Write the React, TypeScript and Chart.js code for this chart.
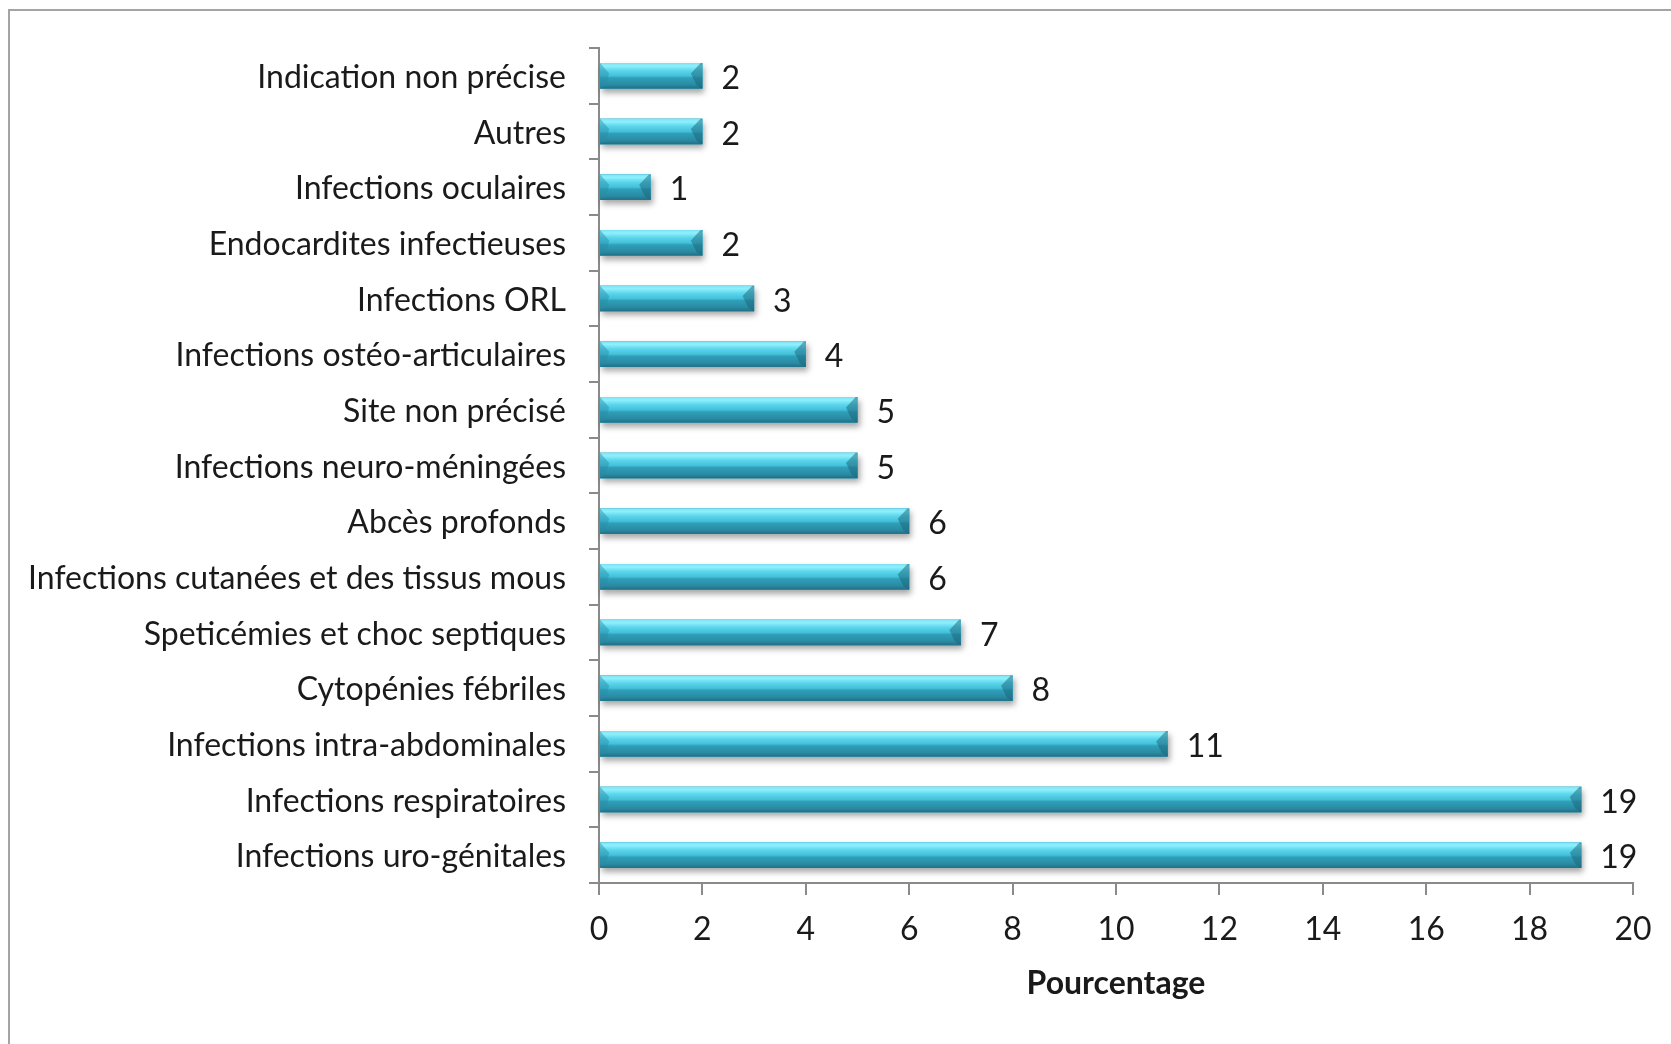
import { useEffect, useRef } from 'react';
import { Chart, registerables } from 'chart.js';

Chart.register(...registerables);

const categories: string[] = [
  'Indication non précise',
  'Autres',
  'Infections oculaires',
  'Endocardites infectieuses',
  'Infections ORL',
  'Infections ostéo-articulaires',
  'Site non précisé',
  'Infections neuro-méningées',
  'Abcès profonds',
  'Infections cutanées et des tissus mous',
  'Speticémies et choc septiques',
  'Cytopénies fébriles',
  'Infections intra-abdominales',
  'Infections respiratoires',
  'Infections uro-génitales',
];

const values: number[] = [2, 2, 1, 2, 3, 4, 5, 5, 6, 6, 7, 8, 11, 19, 19];

const xMin = 0;
const xMax = 20;
const xStep = 2;
const axisTitle = 'Pourcentage';

const W = 1671;
const H = 1044;
const AREA_LEFT = 599;
const AREA_RIGHT = 1633;
const AREA_TOP = 48;
const AREA_BOTTOM = 883;
const FONT = 'Lato, Carlito, Calibri, sans-serif';
const TEXT = '#1a1a1a';
const AXIS = '#8a8a8a';

const framePlugin = {
  id: 'frame',
  beforeDraw(chart: any) {
    const ctx = chart.ctx;
    ctx.save();
    ctx.fillStyle = '#ffffff';
    ctx.fillRect(0, 0, W, H);
    ctx.strokeStyle = '#a4a4a4';
    ctx.lineWidth = 2;
    ctx.beginPath();
    ctx.moveTo(9, H);
    ctx.lineTo(9, 10);
    ctx.lineTo(W, 10);
    ctx.stroke();
    ctx.restore();
  },
};

const barStylePlugin = {
  id: 'barStyle',
  beforeDatasetsDraw(chart: any) {
    const ctx = chart.ctx;
    const meta = chart.getDatasetMeta(0);
    ctx.save();
    meta.data.forEach((el: any) => {
      const top = el.y - el.height / 2;
      const left = Math.min(el.base, el.x);
      const w = Math.abs(el.x - el.base);
      ctx.shadowColor = 'rgba(0,0,0,0.35)';
      ctx.shadowBlur = 6;
      ctx.shadowOffsetX = 2;
      ctx.shadowOffsetY = 4;
      ctx.fillStyle = '#2a8aa3';
      ctx.fillRect(left, top, w, el.height);
    });
    ctx.restore();
  },
  afterDatasetsDraw(chart: any) {
    const ctx = chart.ctx;
    const meta = chart.getDatasetMeta(0);
    ctx.save();
    meta.data.forEach((el: any, i: number) => {
      const h = el.height;
      const top = el.y - h / 2;
      const bottom = el.y + h / 2;
      const left = Math.min(el.base, el.x);
      const right = Math.max(el.base, el.x);
      const g = ctx.createLinearGradient(0, top, 0, bottom);
      g.addColorStop(0, '#7fe3f5');
      g.addColorStop(0.12, '#8ef0fc');
      g.addColorStop(0.3, '#5ad5ec');
      g.addColorStop(0.5, '#45c0da');
      g.addColorStop(0.58, '#2f9fba');
      g.addColorStop(0.85, '#2a8aa2');
      g.addColorStop(1, '#1f6f84');
      ctx.fillStyle = g;
      ctx.fillRect(left, top, right - left, h);
      // right end face
      const bv = Math.min(h * 0.45, (right - left) / 3);
      ctx.fillStyle = 'rgba(25,100,120,0.5)';
      ctx.beginPath();
      ctx.moveTo(right - bv, top + bv * 0.9);
      ctx.lineTo(right - bv * 0.15, top);
      ctx.lineTo(right, top);
      ctx.lineTo(right, bottom);
      ctx.lineTo(right - bv * 0.5, bottom - bv * 0.3);
      ctx.closePath();
      ctx.fill();
      // left end bevel
      ctx.fillStyle = 'rgba(40,140,165,0.45)';
      ctx.beginPath();
      ctx.moveTo(left, top);
      ctx.lineTo(left + bv * 0.8, top + bv * 0.9);
      ctx.lineTo(left + bv * 0.5, bottom - bv * 0.3);
      ctx.lineTo(left, bottom);
      ctx.closePath();
      ctx.fill();

      // value label
      ctx.fillStyle = TEXT;
      ctx.font = `32px ${FONT}`;
      ctx.textAlign = 'left';
      ctx.textBaseline = 'middle';
      ctx.fillText(String(values[i]), right + 19, el.y + 3);
    });
    ctx.restore();
  },
};

export default function App() {
  const canvasRef = useRef<HTMLCanvasElement | null>(null);

  useEffect(() => {
    const canvas = canvasRef.current;
    if (!canvas) return;
    const chart = new Chart(canvas, {
      type: 'bar',
      data: {
        labels: categories,
        datasets: [
          {
            data: values,
            backgroundColor: '#3bb8d2',
            borderWidth: 0,
            barPercentage: 0.9,
            categoryPercentage: 0.51,
          },
        ],
      },
      options: {
        indexAxis: 'y',
        responsive: false,
        animation: false,
        events: [],
        layout: {
          padding: { left: 0, right: W - AREA_RIGHT, top: AREA_TOP, bottom: 0 },
        },
        plugins: {
          legend: { display: false },
          tooltip: { enabled: false },
          title: { display: false },
        },
        scales: {
          x: {
            type: 'linear',
            min: xMin,
            max: xMax,
            afterFit(scale: any) {
              scale.height = H - AREA_BOTTOM;
            },
            ticks: {
              stepSize: xStep,
              color: TEXT,
              font: { family: FONT, size: 32 },
              padding: 15,
            },
            grid: {
              display: true,
              drawOnChartArea: false,
              drawTicks: true,
              tickLength: 12,
              color: AXIS,
              lineWidth: 2,
            },
            border: { display: true, color: AXIS, width: 2 },
            title: {
              display: true,
              text: axisTitle,
              color: TEXT,
              font: { family: FONT, size: 32, weight: 'bold' },
              padding: { top: 0, bottom: 41 },
            },
          },
          y: {
            type: 'category',
            afterFit(scale: any) {
              scale.width = AREA_LEFT;
            },
            ticks: {
              color: TEXT,
              font: { family: FONT, size: 32 },
              padding: 23,
              labelOffset: 2,
              autoSkip: false,
            },
            grid: {
              display: true,
              offset: true,
              drawOnChartArea: false,
              drawTicks: true,
              tickLength: 10,
              color: AXIS,
              lineWidth: 2,
            },
            border: { display: true, color: AXIS, width: 2 },
          },
        },
      },
      plugins: [framePlugin, barStylePlugin],
    } as any);
    return () => chart.destroy();
  }, []);

  return (
    <div style={{ position: 'fixed', left: 0, top: 0, width: W, height: H, background: '#fff' }}>
      <canvas ref={canvasRef} width={W} height={H} style={{ width: W, height: H, display: 'block' }} />
    </div>
  );
}
